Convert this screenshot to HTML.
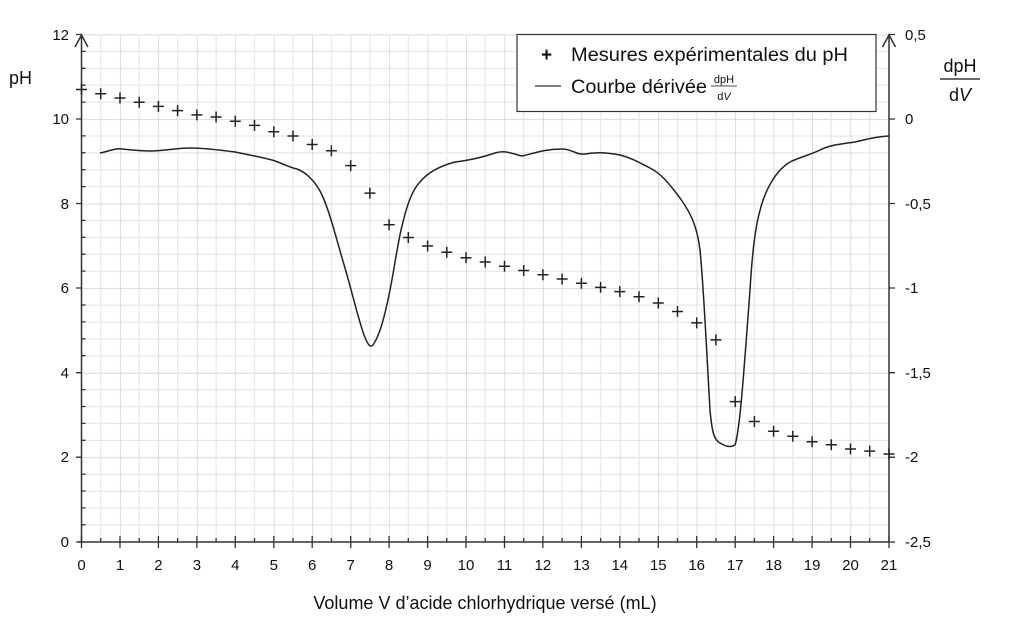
<!DOCTYPE html>
<html><head><meta charset="utf-8"><style>
body{margin:0;background:#fff;}
svg text{font-family:"Liberation Sans",sans-serif;fill:#111;}
</style></head><body>
<svg width="1024" height="615" viewBox="0 0 1024 615" xmlns="http://www.w3.org/2000/svg">
<defs>
<pattern id="gv" x="81.5" y="0" width="38.45" height="615" patternUnits="userSpaceOnUse">
<line x1="19.22" y1="0" x2="19.22" y2="615" stroke="#e6e6e6" stroke-width="1.2"/>
<line x1="0" y1="0" x2="0" y2="615" stroke="#cfcfcf" stroke-width="1.4"/>
</pattern>
<pattern id="gh" x="0" y="34.5" width="1024" height="84.58" patternUnits="userSpaceOnUse">
<line x1="0" y1="16.9" x2="1024" y2="16.9" stroke="#e6e6e6" stroke-width="1.2"/>
<line x1="0" y1="33.8" x2="1024" y2="33.8" stroke="#e6e6e6" stroke-width="1.2"/>
<line x1="0" y1="50.7" x2="1024" y2="50.7" stroke="#e6e6e6" stroke-width="1.2"/>
<line x1="0" y1="67.6" x2="1024" y2="67.6" stroke="#e6e6e6" stroke-width="1.2"/>
<line x1="0" y1="0" x2="1024" y2="0" stroke="#cfcfcf" stroke-width="1.4"/>
</pattern>
</defs>
<rect x="81.5" y="34.5" width="807.5" height="507.5" fill="url(#gh)"/>
<rect x="81.5" y="34.5" width="807.5" height="507.5" fill="url(#gv)"/>
<g stroke="#333" stroke-width="1.5" fill="none">
<line x1="81.5" y1="34" x2="81.5" y2="542"/>
<line x1="889" y1="34" x2="889" y2="542"/>
<line x1="78" y1="542" x2="889" y2="542"/>
<path d="M75 47 L81.5 35 L88 47"/>
<path d="M882.5 47 L889 35 L895.5 47"/>
</g>
<g stroke="#333" stroke-width="1.3">
<path d="M81.5 536v12M120 536v12M158.4 536v12M196.9 536v12M235.3 536v12M273.8 536v12M312.2 536v12M350.7 536v12M389.1 536v12M427.6 536v12M466 536v12M504.5 536v12M542.9 536v12M581.4 536v12M619.8 536v12M658.3 536v12M696.7 536v12M735.2 536v12M773.6 536v12M812.1 536v12M850.5 536v12M889 536v12"/>
<path d="M100.7 538v4M139.2 538v4M177.6 538v4M216.1 538v4M254.5 538v4M293 538v4M331.4 538v4M369.9 538v4M408.3 538v4M446.8 538v4M485.2 538v4M523.7 538v4M562.1 538v4M600.6 538v4M639 538v4M677.5 538v4M715.9 538v4M754.4 538v4M792.8 538v4M831.3 538v4M869.7 538v4"/>
<path d="M76 34.5h6M76 119h6M76 203.5h6M76 288h6M76 372.7h6M76 457.2h6M76 542h6"/>
<path d="M81.5 51.4h4M81.5 68.3h4M81.5 85.2h4M81.5 102.1h4M81.5 135.9h4M81.5 152.8h4M81.5 169.7h4M81.5 186.6h4M81.5 220.4h4M81.5 237.3h4M81.5 254.2h4M81.5 271.1h4M81.5 305h4M81.5 321.9h4M81.5 338.8h4M81.5 355.7h4M81.5 389.6h4M81.5 406.5h4M81.5 423.4h4M81.5 440.3h4M81.5 474.1h4M81.5 491h4M81.5 507.9h4M81.5 524.8h4"/>
<path d="M889 34.5h6M889 119h6M889 203.5h6M889 288h6M889 372.7h6M889 457.2h6M889 542h6"/>
</g>
<g font-size="15" text-anchor="middle">
<text x="81.5" y="570">0</text><text x="120" y="570">1</text><text x="158.4" y="570">2</text><text x="196.9" y="570">3</text><text x="235.3" y="570">4</text><text x="273.8" y="570">5</text><text x="312.2" y="570">6</text><text x="350.7" y="570">7</text><text x="389.1" y="570">8</text><text x="427.6" y="570">9</text><text x="466" y="570">10</text><text x="504.5" y="570">11</text><text x="542.9" y="570">12</text><text x="581.4" y="570">13</text><text x="619.8" y="570">14</text><text x="658.3" y="570">15</text><text x="696.7" y="570">16</text><text x="735.2" y="570">17</text><text x="773.6" y="570">18</text><text x="812.1" y="570">19</text><text x="850.5" y="570">20</text><text x="889" y="570">21</text>
</g>
<g font-size="15" text-anchor="end">
<text x="69" y="40">12</text><text x="69" y="124">10</text><text x="69" y="209">8</text><text x="69" y="293">6</text><text x="69" y="378">4</text><text x="69" y="462">2</text><text x="69" y="547">0</text>
</g>
<g font-size="15">
<text x="905" y="40">0,5</text><text x="905" y="124">0</text><text x="905" y="209">-0,5</text><text x="905" y="293">-1</text><text x="905" y="378">-1,5</text><text x="905" y="462">-2</text><text x="905" y="547">-2,5</text>
</g>
<text x="9" y="84" font-size="18">pH</text>
<text x="960" y="72" font-size="18" text-anchor="middle">dpH</text>
<line x1="940" y1="79" x2="980" y2="79" stroke="#111" stroke-width="1.3"/>
<text x="960" y="101" font-size="18" text-anchor="middle">d<tspan font-style="italic">V</tspan></text>
<text x="485" y="609" font-size="18" text-anchor="middle">Volume V d’acide chlorhydrique versé (mL)</text>
<rect x="517" y="34.5" width="359" height="77" fill="#fff" stroke="#333" stroke-width="1.2"/>
<text x="541" y="61" font-size="19" font-weight="bold">+</text>
<text x="571" y="61" font-size="19" textLength="277" lengthAdjust="spacingAndGlyphs">Mesures expérimentales du pH</text>
<line x1="535" y1="86" x2="561" y2="86" stroke="#333" stroke-width="1.3"/>
<text x="571" y="93" font-size="19" textLength="136" lengthAdjust="spacingAndGlyphs">Courbe dérivée</text>
<text x="724" y="83" font-size="11" text-anchor="middle">dpH</text>
<line x1="711" y1="86" x2="737" y2="86" stroke="#111" stroke-width="0.8"/>
<text x="724" y="100" font-size="11" text-anchor="middle">d<tspan font-style="italic">V</tspan></text>
<path fill="none" stroke="#222" stroke-width="1.5" stroke-linejoin="round" d="M100 153 C110 151,115 148,122 149 C132 150,140 151,150 151 C165 151,175 148,190 148 C205 148,220 150,235 152 C250 155,260 157,272 160 C282 163,288 167,297 169 C305 172,315 180,322 195 C330 212,338 245,345 268 C352 292,358 318,364 335 C368 345,370 348,373 345 C380 335,385 315,390 290 C395 265,398 240,403 222 C407 205,412 190,420 182 C428 172,440 166,455 162 C470 160,480 158,495 153 C505 150,510 153,522 156 C535 153,545 149,562 149 C572 149,576 155,585 154 C595 152,605 152,620 155 C632 158,640 163,650 168 C662 174,670 185,680 198 C690 212,697 225,700 250 C704 290,707 360,710 410 C712 432,714 440,720 443 C725 446,730 448,735 445 C740 430,744 370,750 290 C753 240,757 215,765 195 C772 178,780 168,790 162 C800 157,810 155,820 150 C830 145,840 144,855 142 C865 140,872 137,889 136"/>
<path fill="none" stroke="#222" stroke-width="1.5" d="M76 89.5h11M81.5 84v11M95.2 93.7h11M100.7 88.2v11M114.5 98h11M120 92.5v11M133.7 102.2h11M139.2 96.7v11M152.9 106.4h11M158.4 100.9v11M172.1 110.6h11M177.6 105.1v11M191.4 114.9h11M196.9 109.4v11M210.6 117h11M216.1 111.5v11M229.8 121.2h11M235.3 115.7v11M249 125.4h11M254.5 119.9v11M268.3 131.8h11M273.8 126.3v11M287.5 136h11M293 130.5v11M306.7 144.5h11M312.2 139v11M325.9 150.8h11M331.4 145.3v11M345.2 165.6h11M350.7 160.1v11M364.4 193.1h11M369.9 187.6v11M383.6 224.8h11M389.1 219.3v11M402.8 237.5h11M408.3 232v11M422.1 246h11M427.6 240.5v11M441.3 252.3h11M446.8 246.8v11M460.5 257.8h11M466 252.3v11M479.7 262h11M485.2 256.5v11M499 266.3h11M504.5 260.8v11M518.2 270.5h11M523.7 265v11M537.4 274.7h11M542.9 269.2v11M556.6 279h11M562.1 273.5v11M575.9 283.2h11M581.4 277.7v11M595.1 287.4h11M600.6 281.9v11M614.3 291.6h11M619.8 286.1v11M633.5 296.7h11M639 291.2v11M652.8 303h11M658.3 297.5v11M672 311.5h11M677.5 306v11M691.2 322.9h11M696.7 317.4v11M710.4 339.9h11M715.9 334.4v11M729.7 401.6h11M735.2 396.1v11M748.9 421.5h11M754.4 416v11M768.1 431.2h11M773.6 425.7v11M787.3 436.3h11M792.8 430.8v11M806.6 441.8h11M812.1 436.3v11M825.8 444.7h11M831.3 439.2v11M845 449h11M850.5 443.5v11M864.2 451.1h11M869.7 445.6v11M883.5 454h11M889 448.5v11"/>
</svg>
</body></html>
